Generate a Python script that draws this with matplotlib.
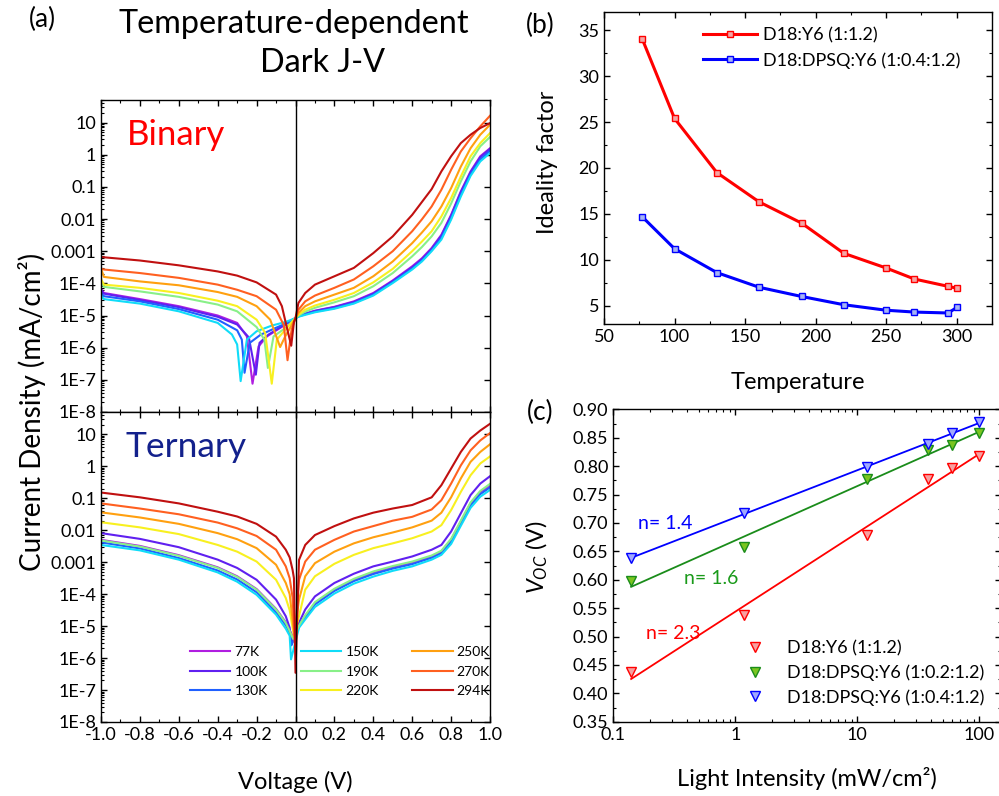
import numpy as np
import matplotlib
matplotlib.use('Agg')
import matplotlib.pyplot as plt
from matplotlib.ticker import FixedLocator, FixedFormatter, MultipleLocator, LogLocator, NullFormatter

plt.rcParams['font.family'] = ['Lato', 'DejaVu Sans']
plt.rcParams['axes.unicode_minus'] = False
plt.rcParams['mathtext.fontset'] = 'custom'
plt.rcParams['mathtext.rm'] = 'Lato'
plt.rcParams['mathtext.it'] = 'Lato:italic'

# ---------------- (a) dark J-V, values are log10(J / mA cm^-2) ----------------
temps = [77, 100, 130, 150, 190, 220, 250, 270, 294]
jv_colors = ['#b01ee0', '#6020f0', '#2060ff', '#10dcf8', '#88f088',
             '#f8f020', '#ffa010', '#ff6020', '#c01010']

# binary: reverse grid, per-curve dip region, forward grid
bin_rev_v = [-1.0, -0.985, -0.8, -0.6, -0.4]
bin_rev_j = [
    [-4.17, -4.30, -4.49, -4.71, -5.00],
    [-4.20, -4.32, -4.52, -4.74, -5.04],
    [-4.30, -4.40, -4.56, -4.80, -5.13],
    [-4.38, -4.49, -4.63, -4.87, -5.23],
    [-3.97, -4.11, -4.25, -4.42, -4.66],
    [-3.86, -4.04, -4.14, -4.30, -4.54],
    [-3.54, -3.80, -3.94, -4.06, -4.27],
    [-3.54, -3.57, -3.68, -3.83, -4.04],
    [-3.18, -3.19, -3.29, -3.44, -3.63],
]
bin_dip_v = [
    [-0.3, -0.25, -0.221, -0.19, -0.147, -0.08],
    [-0.3, -0.24, -0.204, -0.185, -0.14, -0.08],
    [-0.3, -0.276, -0.262, -0.235, -0.18, -0.1, -0.05],
    [-0.327, -0.3, -0.282, -0.25, -0.2, -0.12, -0.05],
    [-0.3, -0.2, -0.16, -0.142, -0.113, -0.045],
    [-0.3, -0.2, -0.156, -0.122, -0.096, -0.045],
    [-0.3, -0.2, -0.13, -0.079, -0.053, -0.02],
    [-0.3, -0.2, -0.1, -0.06, -0.041, -0.02],
    [-0.3, -0.2, -0.1, -0.07, -0.05, -0.022, -0.008],
]
bin_dip_j = [
    [-5.23, -5.65, -7.12, -5.96, -5.65, -5.39],
    [-5.28, -5.68, -6.84, -5.85, -5.60, -5.37],
    [-5.46, -5.75, -6.78, -5.85, -5.60, -5.38, -5.25],
    [-5.59, -5.90, -7.04, -5.75, -5.49, -5.31, -5.20],
    [-4.87, -5.36, -5.75, -6.63, -5.65, -5.36],
    [-4.71, -5.13, -5.54, -7.12, -5.75, -5.39],
    [-4.42, -4.71, -5.13, -5.98, -5.65, -5.30],
    [-4.20, -4.40, -4.82, -5.30, -6.39, -5.44],
    [-3.76, -3.97, -4.35, -4.71, -5.23, -5.94, -5.20],
]
bin_fwd_v = [0.0, 0.015, 0.05, 0.1, 0.2, 0.3, 0.4, 0.5, 0.6, 0.65, 0.7, 0.75, 0.8, 0.85, 0.9, 0.95, 1.0]
bin_fwd_j = [
    [-5.08, -5.02, -4.94, -4.85, -4.73, -4.56, -4.30, -3.91, -3.47, -3.22, -2.90, -2.49, -1.87, -1.14, -0.52, -0.05, 0.20],
    [-5.08, -5.02, -4.95, -4.86, -4.74, -4.58, -4.32, -3.93, -3.50, -3.25, -2.93, -2.52, -1.90, -1.17, -0.55, -0.08, 0.18],
    [-5.08, -5.03, -4.96, -4.88, -4.77, -4.61, -4.35, -3.96, -3.54, -3.29, -2.97, -2.58, -1.97, -1.24, -0.60, -0.15, 0.12],
    [-5.08, -5.04, -4.98, -4.90, -4.79, -4.63, -4.38, -3.99, -3.57, -3.32, -3.00, -2.64, -2.02, -1.30, -0.66, -0.21, 0.05],
    [-5.08, -5.00, -4.88, -4.76, -4.59, -4.40, -4.09, -3.68, -3.16, -2.87, -2.54, -2.12, -1.52, -0.83, -0.21, 0.26, 0.55],
    [-5.08, -4.97, -4.82, -4.69, -4.51, -4.30, -3.97, -3.55, -3.00, -2.70, -2.38, -1.92, -1.35, -0.68, -0.05, 0.36, 0.67],
    [-5.08, -4.92, -4.71, -4.56, -4.35, -4.14, -3.78, -3.32, -2.75, -2.42, -2.07, -1.61, -1.04, -0.37, 0.20, 0.62, 0.93],
    [-5.08, -4.82, -4.56, -4.38, -4.14, -3.88, -3.47, -3.00, -2.38, -2.01, -1.61, -1.09, -0.47, 0.10, 0.51, 0.88, 1.21],
    [-5.08, -4.61, -4.30, -4.04, -3.78, -3.52, -3.06, -2.54, -1.87, -1.47, -1.07, -0.52, -0.05, 0.36, 0.62, 0.83, 0.98],
]

# ternary
ter_rev_v = [-1.0, -0.8, -0.6, -0.4, -0.3, -0.2, -0.1, -0.05, -0.03]
ter_rev_j = [
    [-2.30, -2.49, -2.78, -3.16, -3.44, -3.84, -4.46, -4.88, -5.13],
    [-2.09, -2.27, -2.53, -2.92, -3.18, -3.55, -4.17, -4.69, -5.05],
    [-2.38, -2.57, -2.87, -3.26, -3.54, -3.94, -4.57, -4.97, -5.20],
    [-2.46, -2.63, -2.92, -3.32, -3.61, -4.02, -4.64, -5.08, -5.30],
    [-2.32, -2.51, -2.80, -3.18, -3.46, -3.86, -4.48, -4.90, -5.15],
    [-1.75, -1.91, -2.12, -2.46, -2.67, -2.98, -3.55, -4.12, -4.50],
    [-1.44, -1.60, -1.80, -2.09, -2.28, -2.56, -3.08, -3.65, -4.00],
    [-1.16, -1.32, -1.50, -1.76, -1.94, -2.18, -2.61, -3.13, -3.50],
    [-0.82, -0.97, -1.16, -1.42, -1.57, -1.80, -2.20, -2.61, -2.85],
]
ter_dip_v = [[-0.01], [-0.02], [-0.021], [-0.023], [-0.012], [-0.008], [-0.006],
             [-0.015, -0.004], [-0.015, -0.008, 0.0]]
ter_dip_j = [[-5.35], [-5.57], [-5.60], [-6.04], [-5.40], [-5.30], [-5.30],
             [-4.10, -5.50], [-3.24, -3.50, -6.46]]
ter_fwd_v = [0.018, 0.05, 0.1, 0.2, 0.3, 0.4, 0.5, 0.6, 0.7, 0.75, 0.8, 0.85, 0.9, 0.95, 1.0]
ter_fwd_j = [
    [-5.00, -4.69, -4.28, -3.86, -3.55, -3.32, -3.15, -3.01, -2.82, -2.67, -2.30, -1.73, -1.16, -0.80, -0.61],
    [-4.90, -4.48, -4.07, -3.65, -3.36, -3.13, -2.98, -2.82, -2.61, -2.46, -2.04, -1.47, -0.90, -0.54, -0.31],
    [-5.02, -4.72, -4.32, -3.90, -3.59, -3.37, -3.20, -3.06, -2.86, -2.72, -2.36, -1.79, -1.22, -0.87, -0.66],
    [-5.05, -4.79, -4.40, -3.98, -3.67, -3.45, -3.27, -3.13, -2.92, -2.77, -2.43, -1.86, -1.30, -0.95, -0.74],
    [-4.98, -4.66, -4.25, -3.83, -3.52, -3.29, -3.12, -2.98, -2.79, -2.64, -2.27, -1.70, -1.13, -0.77, -0.55],
    [-4.69, -3.86, -3.44, -3.05, -2.77, -2.56, -2.41, -2.25, -2.04, -1.84, -1.37, -0.80, -0.28, 0.09, 0.31],
    [-4.17, -3.44, -3.03, -2.67, -2.41, -2.22, -2.07, -1.91, -1.70, -1.45, -0.97, -0.38, 0.14, 0.45, 0.69],
    [-3.55, -2.98, -2.61, -2.30, -2.04, -1.87, -1.70, -1.58, -1.35, -1.06, -0.54, 0.03, 0.50, 0.81, 1.04],
    [-2.93, -2.46, -2.15, -1.87, -1.63, -1.45, -1.32, -1.21, -0.97, -0.59, -0.07, 0.45, 0.87, 1.12, 1.33],
]
jv_yticks = [1e-8, 1e-7, 1e-6, 1e-5, 1e-4, 1e-3, 1e-2, 1e-1, 1, 10]
jv_ylabels = ['1E-8', '1E-7', '1E-6', '1E-5', '1E-4', '0.001', '0.01', '0.1', '1', '10']

# ---------------- (b) ideality factor ----------------
temp_b = [77, 100, 130, 160, 190, 220, 250, 270, 294, 300]
ideal_binary = [34.1, 25.4, 19.5, 16.3, 14.0, 10.7, 9.1, 7.9, 7.1, 6.9]
ideal_ternary = [14.7, 11.2, 8.6, 7.0, 6.0, 5.1, 4.5, 4.3, 4.2, 4.8]

# ---------------- (c) Voc vs light intensity ----------------
intensity = [0.14, 1.18, 11.9, 37.8, 59.4, 100]
voc_binary = [0.438, 0.538, 0.678, 0.777, 0.797, 0.818]
voc_02 = [0.597, 0.658, 0.777, 0.828, 0.837, 0.858]
voc_04 = [0.638, 0.717, 0.798, 0.839, 0.858, 0.877]

W, H = 999, 796
fig = plt.figure(figsize=(W / 100, H / 100), dpi=100)


def px_axes(x0, y0, x1, y1):
    # pixel box (top-left origin) -> figure axes
    return fig.add_axes([x0 / W, 1 - y1 / H, (x1 - x0) / W, (y1 - y0) / H])


def style(ax):
    ax.tick_params(which='both', direction='in', top=True, right=True, labelsize=13)
    ax.tick_params(which='major', length=4, width=1)
    ax.tick_params(which='minor', length=2.5, width=0.8)
    for s in ax.spines.values():
        s.set_linewidth(1.0)


def jv_panel(ax, rev_v, rev_j, dip_v, dip_j, fwd_v, fwd_j):
    for k, t in enumerate(temps):
        v = np.concatenate([rev_v, dip_v[k], fwd_v])
        j = np.concatenate([rev_j[k], dip_j[k], fwd_j[k]])
        order = np.argsort(v, kind='stable')
        ax.plot(v[order], 10.0 ** j[order], color=jv_colors[k], lw=1.5, label=f'{t}K')
    ax.set_yscale('log')
    ax.axvline(0, color='black', lw=1)
    ax.set_xlim(-1.0, 1.0)
    ax.set_ylim(1e-8, 10 ** 1.7)
    style(ax)
    ax.yaxis.set_major_locator(FixedLocator(jv_yticks))
    ax.yaxis.set_major_formatter(FixedFormatter(jv_ylabels))
    ax.yaxis.set_minor_locator(LogLocator(base=10, subs=np.arange(2, 10), numticks=20))
    ax.yaxis.set_minor_formatter(NullFormatter())
    ax.tick_params(axis='y', which='minor', right=False)
    ax.xaxis.set_major_locator(MultipleLocator(0.2))
    ax.xaxis.set_minor_locator(MultipleLocator(0.1))
    ax.xaxis.set_major_formatter(plt.FuncFormatter(lambda x, p: f'{x:.1f}'))


ax_bin = px_axes(101, 100, 490, 412)
jv_panel(ax_bin, bin_rev_v, bin_rev_j, bin_dip_v, bin_dip_j, bin_fwd_v, bin_fwd_j)
ax_bin.tick_params(axis='x', labelbottom=False)
ax_bin.text(0.067, 0.856, 'Binary', color='#ff0000', fontsize=25, transform=ax_bin.transAxes)

ax_ter = px_axes(101, 412, 490, 722)
jv_panel(ax_ter, ter_rev_v, ter_rev_j, ter_dip_v, ter_dip_j, ter_fwd_v, ter_fwd_j)
ax_ter.text(0.062, 0.855, 'Ternary', color='#13218c', fontsize=25.5, transform=ax_ter.transAxes)
ax_ter.legend(ncol=3, loc='upper left', bbox_to_anchor=(0.229, 0.245), frameon=False,
              fontsize=10, handlelength=2.9, handletextpad=0.3, columnspacing=2.4,
              labelspacing=0.55, borderpad=0, borderaxespad=0)

fig.text(0.032, 0.482, 'Current Density (mA/cm²)', rotation=90, ha='center', va='center', fontsize=20)
fig.text(0.2953, 0.0176, 'Voltage (V)', ha='center', va='center', fontsize=17)
fig.text(0.2943, 0.9585, 'Temperature-dependent', ha='center', va='baseline', fontsize=23.3)
fig.text(0.3233, 0.9095, 'Dark J-V', ha='center', va='baseline', fontsize=23.3)
fig.text(0.042, 0.975, '(a)', ha='center', va='center', fontsize=19)

# ---------------- (b) ----------------
ax_b = px_axes(604, 12, 992, 324)
ax_b.plot(temp_b, ideal_binary, color='#ff0000', lw=2.2, marker='s', ms=5,
          mfc='#f4a6a6', mec='#ff0000', mew=1, label='D18:Y6 (1:1.2)')
ax_b.plot(temp_b, ideal_ternary, color='#0000ff', lw=2.2, marker='s', ms=5,
          mfc='#a6b4f4', mec='#0000ff', mew=1, label='D18:DPSQ:Y6 (1:0.4:1.2)')
ax_b.set_xlim(50, 325)
ax_b.set_ylim(3, 37)
style(ax_b)
ax_b.xaxis.set_major_locator(MultipleLocator(50))
ax_b.xaxis.set_minor_locator(MultipleLocator(25))
ax_b.yaxis.set_major_locator(MultipleLocator(5))
ax_b.yaxis.set_minor_locator(MultipleLocator(2.5))
ax_b.set_yticks([5, 10, 15, 20, 25, 30, 35])
ax_b.legend(loc='upper left', bbox_to_anchor=(0.255, 0.952), frameon=False, fontsize=13,
            handlelength=3.0, handletextpad=0.33, labelspacing=0.5, borderpad=0, borderaxespad=0)
fig.text(0.5485, 0.796, 'Ideality factor', rotation=90, ha='center', va='center', fontsize=17)
fig.text(0.799, 0.520, 'Temperature', ha='center', va='center', fontsize=17)
fig.text(0.5405, 0.9686, '(b)', ha='center', va='center', fontsize=19)

# ---------------- (c) ----------------
ax_c = px_axes(613.3, 409.3, 1000.8, 721.7)
ax_c.set_xscale('log')
series_c = [
    (voc_binary, '#ff0000', '#f7a0a0', '#ff0000', 'D18:Y6 (1:1.2)'),
    (voc_02, '#1a8c1a', '#7ac520', '#1a8c1a', 'D18:DPSQ:Y6 (1:0.2:1.2)'),
    (voc_04, '#0000ff', '#a0a8ff', '#0000ff', 'D18:DPSQ:Y6 (1:0.4:1.2)'),
]
lx = np.log10(intensity)
for vals, lc, fc, ec, lab in series_c:
    slope, icpt = np.polyfit(lx, vals, 1)
    xf = np.array([lx[0], lx[-1]])
    ax_c.plot(10 ** xf, slope * xf + icpt, color=lc, lw=1.3)
for vals, lc, fc, ec, lab in series_c:
    ax_c.plot(intensity, vals, ls='none', marker='v', ms=7, mfc=fc, mec=ec, mew=1, label=lab)
ax_c.set_xlim(0.1, 150)
ax_c.set_ylim(0.35, 0.90)
style(ax_c)
ax_c.yaxis.set_major_locator(MultipleLocator(0.05))
ax_c.yaxis.set_minor_locator(MultipleLocator(0.025))
ax_c.yaxis.set_major_formatter(plt.FuncFormatter(lambda y, p: f'{y:.2f}'))
ax_c.xaxis.set_major_locator(FixedLocator([0.1, 1, 10, 100]))
ax_c.xaxis.set_major_formatter(FixedFormatter(['0.1', '1', '10', '100']))
ax_c.xaxis.set_minor_locator(LogLocator(base=10, subs=np.arange(2, 10), numticks=20))
ax_c.xaxis.set_minor_formatter(NullFormatter())
ax_c.legend(loc='upper left', bbox_to_anchor=(0.332, 0.2615), frameon=False, fontsize=13,
            handlelength=1.5, handletextpad=1.0, labelspacing=0.45, borderpad=0, borderaxespad=0)
ax_c.text(0.064, 0.636, 'n= 1.4', color='#0000ff', fontsize=14, va='center', transform=ax_c.transAxes)
ax_c.text(0.182, 0.457, 'n= 1.6', color='#1a9a1a', fontsize=14, va='center', transform=ax_c.transAxes)
ax_c.text(0.084, 0.281, 'n= 2.3', color='#ff0000', fontsize=14, va='center', transform=ax_c.transAxes)
fig.text(0.5375, 0.300, r'$V_{OC}$ (V)', rotation=90, ha='center', va='center', fontsize=17)
fig.text(0.808, 0.0226, 'Light Intensity (mW/cm²)', ha='center', va='center', fontsize=17)
fig.text(0.5405, 0.4824, '(c)', ha='center', va='center', fontsize=19)

fig.savefig('out.png', dpi=100)
